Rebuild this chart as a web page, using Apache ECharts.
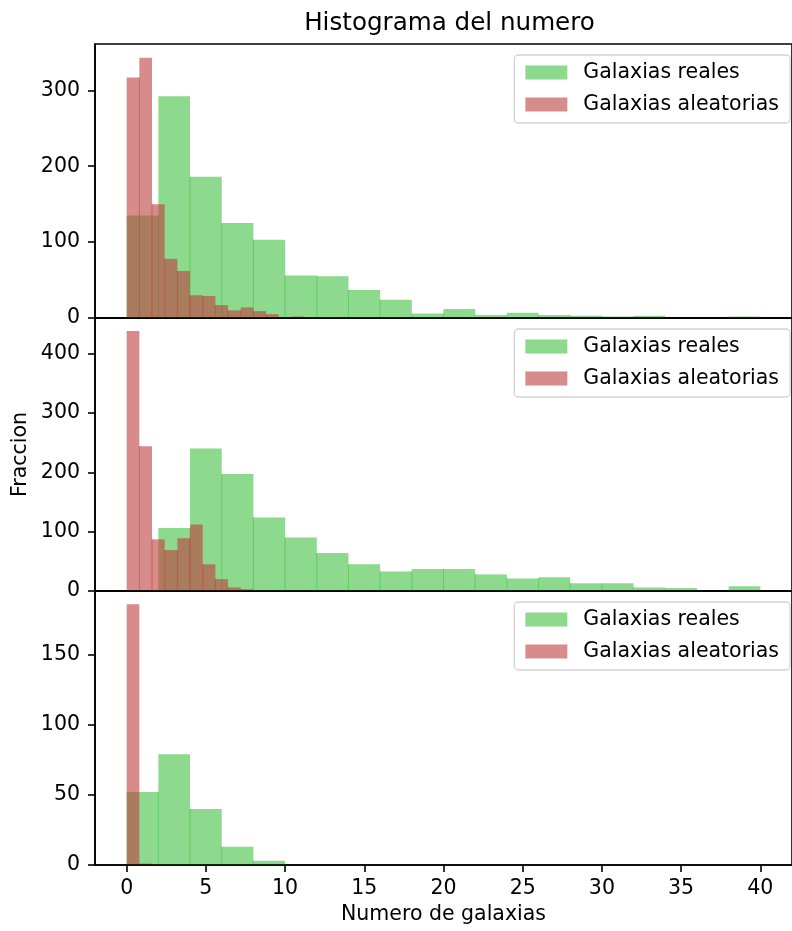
<!DOCTYPE html>
<html>
<head>
<meta charset="utf-8">
<script src="https://cdn.jsdelivr.net/npm/echarts@6/dist/echarts.min.js"></script>
<style>
  html, body { margin: 0; padding: 0; background: #ffffff; }
  #chart { width: 792px; height: 931px; }
</style>
</head>
<body>
<div id="chart"></div>
<script>
// Bin edges of the two histograms
const realEdges = [0, 2, 4, 6, 8, 10, 12, 14, 16, 18, 20, 22, 24, 26, 28, 30, 32, 34, 36, 38, 40];
const randomEdges = [0, 0.8, 1.6, 2.4, 3.2, 4.0, 4.8, 5.6, 6.4, 7.2, 8.0, 8.8, 9.6, 10.4, 11.2];

// Counts per bin, one pair of arrays per panel
const realCounts1 = [135, 292, 186, 125, 103, 56, 55, 37, 24, 6, 12, 4, 7, 4, 3, 2, 3, 0, 0, 2];
const randomCounts1 = [317, 343, 150, 78, 62, 30, 29, 17, 10, 14, 9, 5, 0, 2];

const realCounts2 = [0, 106, 240, 197, 124, 90, 64, 45, 33, 37, 37, 28, 21, 23, 13, 13, 6, 5, 0, 8];
const randomCounts2 = [438, 244, 87, 69, 89, 112, 45, 20, 6, 3, 0, 0, 0, 0];

const realCounts3 = [52, 79, 40, 13, 3, 0, 0, 0, 0, 0, 0, 0, 0, 0, 0, 0, 0, 0, 0, 0];
const randomCounts3 = [186, 1, 0, 0, 0, 0, 0, 0, 0, 0, 0, 0, 0, 0];

// Axis ticks and limits
const xTicks = [0, 5, 10, 15, 20, 25, 30, 35, 40];
const xMin = -2, xMax = 42;
const yTicks1 = [0, 100, 200, 300];
const yTicks2 = [0, 100, 200, 300, 400];
const yTicks3 = [0, 50, 100, 150];
const yMax1 = 361, yMax2 = 460, yMax3 = 195.5;

const titleText = 'Histograma del numero';
const xLabel = 'Numero de galaxias';
const yLabel = 'Fraccion';
const realName = 'Galaxias reales';
const randomName = 'Galaxias aleatorias';

const FONT = '"DejaVu Sans", sans-serif';
const GREEN = 'rgba(65, 192, 65, 0.6)';
const RED = 'rgba(190, 62, 62, 0.6)';
const LW = 1.6;

const panels = [
  { real: realCounts1, random: randomCounts1, yTicks: yTicks1, yMax: yMax1, top: 44, height: 274 },
  { real: realCounts2, random: randomCounts2, yTicks: yTicks2, yMax: yMax2, top: 318, height: 273 },
  { real: realCounts3, random: randomCounts3, yTicks: yTicks3, yMax: yMax3, top: 591, height: 274 }
];

function binData(edges, counts) {
  return counts.map((c, i) => [edges[i], edges[i + 1], c]);
}

// Draws each bin as a rectangle between its edges; a thin seam is drawn
// where two neighbouring bins meet.
function histRenderer(counts, color) {
  return function (params, api) {
    const i = params.dataIndex;
    const x0 = api.value(0), x1 = api.value(1), v = api.value(2);
    const topLeft = api.coord([x0, v]);
    const bottomRight = api.coord([x1, 0]);
    const children = [];
    if (v > 0) {
      children.push({
        type: 'rect',
        shape: {
          x: topLeft[0], y: topLeft[1],
          width: bottomRight[0] - topLeft[0],
          height: bottomRight[1] - topLeft[1]
        },
        style: { fill: color }
      });
    }
    if (i > 0) {
      const h = Math.min(counts[i - 1], v);
      if (h > 0) {
        const seamTop = api.coord([x0, h]);
        children.push({
          type: 'line',
          shape: { x1: topLeft[0], y1: seamTop[1], x2: topLeft[0], y2: bottomRight[1] },
          style: { stroke: color, lineWidth: 1 }
        });
      }
    }
    return { type: 'group', children: children };
  };
}

const grids = [], xAxes = [], yAxes = [], series = [], legends = [];
const legendTops = [55, 329, 602];

panels.forEach((p, k) => {
  const isLast = k === panels.length - 1;
  grids.push({
    left: 95, width: 709, top: p.top, height: p.height,
    show: true, borderColor: '#000', borderWidth: LW, backgroundColor: 'transparent'
  });
  xAxes.push({
    type: 'value', gridIndex: k, min: xMin, max: xMax, z: 10,
    axisLine: { show: true, onZero: false, lineStyle: { color: '#000', width: LW } },
    axisTick: { show: isLast, customValues: xTicks, length: 7, lineStyle: { color: '#000', width: LW } },
    axisLabel: { show: isLast, customValues: xTicks, margin: 13, color: '#000', fontFamily: FONT, fontSize: 20.5 },
    splitLine: { show: false },
    name: isLast ? xLabel : '',
    nameLocation: 'middle', nameGap: 39,
    nameTextStyle: { color: '#000', fontFamily: FONT, fontSize: 20.5 }
  });
  yAxes.push({
    type: 'value', gridIndex: k, min: 0, max: p.yMax, z: 10,
    axisLine: { show: true, onZero: false, lineStyle: { color: '#000', width: LW } },
    axisTick: { show: true, customValues: p.yTicks, length: 7, lineStyle: { color: '#000', width: LW } },
    axisLabel: { show: true, customValues: p.yTicks, margin: 15, color: '#000', fontFamily: FONT, fontSize: 20.5 },
    splitLine: { show: false }
  });
  series.push({
    type: 'custom', name: realName, xAxisIndex: k, yAxisIndex: k,
    itemStyle: { color: GREEN },
    renderItem: histRenderer(p.real, GREEN),
    data: binData(realEdges, p.real),
    encode: { x: [0, 1], y: 2 },
    z: 2
  });
  series.push({
    type: 'custom', name: randomName, xAxisIndex: k, yAxisIndex: k,
    itemStyle: { color: RED },
    renderItem: histRenderer(p.random, RED),
    data: binData(randomEdges, p.random),
    encode: { x: [0, 1], y: 2 },
    z: 3
  });
  legends.push({
    show: true, orient: 'vertical', right: 2, top: legendTops[k],
    data: [realName, randomName],
    selectedMode: false,
    icon: 'rect', itemWidth: 42, itemHeight: 14, itemGap: 11,
    padding: [7, 11, 8, 11],
    borderColor: '#d4d4d4', borderWidth: 1.3, borderRadius: 4,
    backgroundColor: 'rgba(255,255,255,0.8)',
    textStyle: { color: '#000', fontFamily: FONT, fontSize: 20.5, lineHeight: 20, padding: [0, 0, 0, 11] },
    z: 20
  });
});

const chart = echarts.init(document.getElementById('chart'), null, { renderer: 'canvas' });
chart.setOption({
  animation: false,
  backgroundColor: '#ffffff',
  grid: grids,
  xAxis: xAxes,
  yAxis: yAxes,
  legend: legends,
  series: series,
  graphic: [
    {
      type: 'text', x: 449.5, y: 24,
      style: { text: titleText, fill: '#000', font: '24.6px ' + FONT, textAlign: 'center', textVerticalAlign: 'middle' }
    },
    {
      type: 'text', x: 21, y: 454.5, rotation: Math.PI / 2,
      style: { text: yLabel, fill: '#000', font: '20.5px ' + FONT, textAlign: 'center', textVerticalAlign: 'middle' }
    }
  ]
});
</script>
</body>
</html>
